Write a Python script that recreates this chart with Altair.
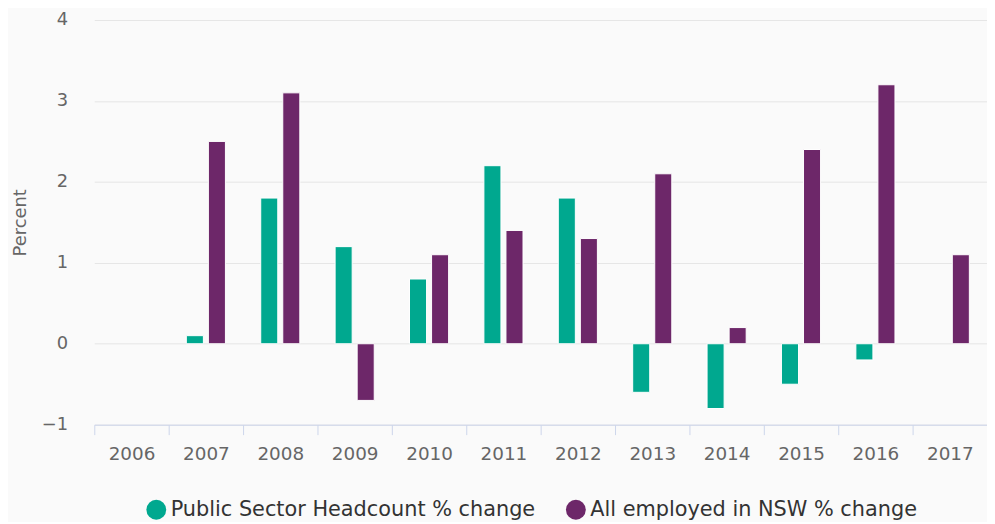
import altair as alt
import pandas as pd

years = ["2006", "2007", "2008", "2009", "2010", "2011", "2012",
         "2013", "2014", "2015", "2016", "2017"]
series_names = ["Public Sector Headcount % change", "All employed in NSW % change"]
public_sector = [None, 0.1, 1.8, 1.2, 0.8, 2.2, 1.8, -0.6, -0.8, -0.5, -0.2, None]
all_employed = [None, 2.5, 3.1, -0.7, 1.1, 1.4, 1.3, 2.1, 0.2, 2.4, 3.2, 1.1]
y_ticks = [-1, 0, 1, 2, 3, 4]
colors = ["#00a88f", "#6d2769"]

rows = []
for name, vals in zip(series_names, [public_sector, all_employed]):
    for yr, v in zip(years, vals):
        if v is not None:
            rows.append({"year": yr, "series": name, "value": v})
df = pd.DataFrame(rows)

FONT = "DejaVu Sans"

chart = alt.Chart(df).mark_bar(stroke="white", strokeWidth=1).encode(
    x=alt.X(
        "year:N",
        sort=years,
        scale=alt.Scale(domain=years, paddingInner=0, paddingOuter=0),
        axis=alt.Axis(
            title=None,
            tickBand="extent",
            labelAngle=0,
            domainColor="#ccd6eb",
            tickColor="#ccd6eb",
            tickSize=10,
            labelPadding=10,
            labelFontSize=18.5,
            labelColor="#666666",
            labelFont=FONT,
            grid=False,
        ),
    ),
    xOffset=alt.XOffset(
        "series:N",
        sort=series_names,
        scale=alt.Scale(domain=series_names, paddingInner=0.227, paddingOuter=0.8),
    ),
    y=alt.Y(
        "value:Q",
        scale=alt.Scale(domain=[-1, 4], nice=False),
        axis=alt.Axis(
            title="Percent",
            values=y_ticks,
            format="d",
            domain=False,
            ticks=False,
            tickSize=0,
            labelPadding=27,
            labelFontSize=18,
            labelColor="#666666",
            labelFont=FONT,
            titleFontSize=18,
            titleFontWeight="normal",
            titleColor="#666666",
            titleFont=FONT,
            titlePadding=12,
            gridColor="#e6e6e6",
            gridWidth=1,
        ),
    ),
    color=alt.Color(
        "series:N",
        sort=series_names,
        scale=alt.Scale(domain=series_names, range=colors),
        legend=alt.Legend(
            title=None,
            orient="none",
            legendX=52,
            legendY=483,
            direction="horizontal",
            symbolType="circle",
            symbolSize=400,
            symbolStrokeWidth=0,
            symbolOpacity=1,
            labelFontSize=21,
            labelColor="#333333",
            labelFont=FONT,
            labelOffset=4,
            labelLimit=0,
            columnPadding=30,
            padding=0,
        ),
    ),
).properties(
    width=900,
    height=408,
    background="#fafafa",
    autosize=alt.AutoSizeParams(type="none"),
    padding={"left": 87, "top": 10, "right": 0, "bottom": 96},
).configure_view(stroke=None)

chart.save("out.html", embed_options={"renderer": "svg", "actions": False})
